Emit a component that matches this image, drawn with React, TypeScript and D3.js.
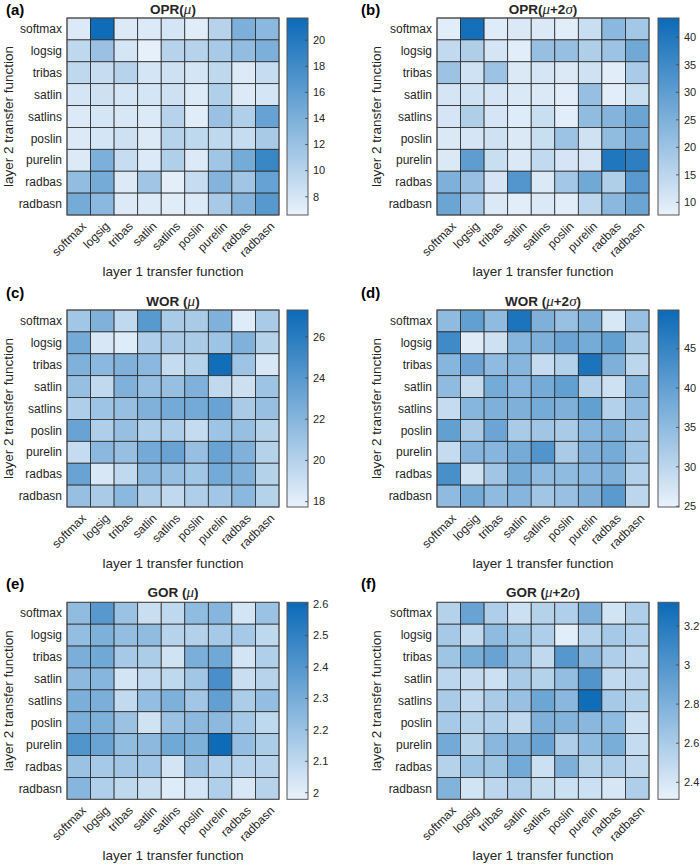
import React from "react";
import * as d3 from "d3";

const funcs = ["softmax", "logsig", "tribas", "satlin", "satlins", "poslin", "purelin", "radbas", "radbasn"];

// rows = layer 2 transfer function, cols = layer 1 transfer function
const oprMu = [
  [7.5, 21.5, 7.5, 7.5, 8, 7.2, 10, 14, 13],
  [9.5, 12, 8, 6.8, 10, 10, 11, 12.5, 14],
  [9.5, 9, 10, 8, 8.5, 8, 9.5, 7.5, 9],
  [8, 8.5, 8, 8, 8.5, 7.5, 10.5, 7.5, 8],
  [7.5, 8, 7.8, 7.5, 10, 7.2, 12, 10.5, 15.5],
  [7.5, 8, 8.5, 7.5, 10, 9.5, 9.5, 9, 11],
  [7.5, 14, 9, 7.5, 10.5, 7.5, 11.5, 14.5, 18.5],
  [12.5, 14.5, 7.5, 11.5, 7, 9, 13.5, 11.5, 15.5],
  [14.5, 13, 7.5, 7.5, 7.2, 7.5, 11, 13.5, 16.5],
];
const oprMu2s = [
  [9, 42, 9.5, 10, 10, 9, 13, 23, 19],
  [14, 17, 11, 9, 21, 21, 17, 20, 27],
  [20, 12, 20, 10, 11, 10, 12, 9, 18],
  [11, 12, 11, 10, 10, 9, 21, 9, 13],
  [11, 17, 11, 9.5, 13, 9, 22, 24, 28],
  [10, 11, 12, 10, 13, 20, 12, 22, 26],
  [10, 30, 13, 10, 14, 11, 11, 40, 38],
  [25, 21, 11, 32, 10, 19, 27, 17, 31],
  [28, 19, 10, 9, 10, 9, 15, 23, 28],
];
const worMu = [
  [20.8, 22.3, 19.5, 24, 20.5, 20.5, 22.3, 18.2, 20.5],
  [22.8, 18.5, 18.2, 20.3, 20.5, 20.5, 21, 22.3, 20],
  [22.3, 21.8, 22.3, 21.8, 19.3, 20, 27, 21, 18.5],
  [21.3, 19.5, 22.3, 21.3, 21.3, 22.3, 19.5, 19, 21],
  [20.3, 21, 21.3, 22.3, 22.8, 22.8, 23.3, 20.5, 21.3],
  [23.3, 20.3, 21.3, 20.3, 20.3, 19.3, 21, 21.3, 20],
  [19.3, 21.8, 21.3, 22.8, 23.3, 21.3, 23.3, 22.3, 20],
  [23.3, 18.5, 19.5, 21.8, 21.3, 20.8, 22.8, 22.3, 20],
  [21.3, 20.5, 21.8, 20.3, 19.5, 20.3, 20.8, 21.8, 20],
];
const worMu2s = [
  [35, 40, 35, 48, 37, 34, 37, 27, 34],
  [44, 26, 28, 36, 37, 39, 38, 40, 32],
  [36, 39, 35, 36, 29, 31, 48, 37, 30],
  [35, 29, 38, 36, 38, 40, 31, 28, 36],
  [29, 36, 37, 37, 38, 37, 40, 31, 35],
  [40, 32, 39, 32, 33, 32, 36, 37, 33],
  [29, 36, 36, 38, 42, 32, 37, 38, 33],
  [43, 28, 33, 38, 35, 35, 36, 37, 31],
  [35, 38, 35, 36, 33, 34, 37, 41, 30],
];
const gorMu = [
  [2.23, 2.39, 2.2, 2.07, 2.1, 2.23, 2.26, 2.04, 2.2],
  [2.22, 2.28, 2.22, 2.23, 2.12, 2.13, 2.17, 2.17, 2.1],
  [2.29, 2.32, 2.17, 2.15, 2.05, 2.29, 2.32, 2.04, 2.14],
  [2.24, 2.26, 2.04, 2.09, 2.1, 2.18, 2.43, 2.07, 2.12],
  [2.29, 2.29, 2.09, 2.22, 2.28, 2.18, 2.36, 2.15, 2.22],
  [2.29, 2.28, 2.2, 2.05, 2.2, 2.24, 2.24, 2.17, 2.1],
  [2.41, 2.34, 2.23, 2.24, 2.32, 2.28, 2.6, 2.22, 2.15],
  [2.2, 2.17, 2.18, 2.18, 2.04, 2.2, 2.14, 2.12, 2.12],
  [2.26, 2.14, 2.1, 2.07, 2.01, 2.04, 2.14, 2.03, 2.12],
];
const gorMu2s = [
  [2.55, 2.9, 2.58, 2.45, 2.55, 2.57, 2.8, 2.42, 2.58],
  [2.62, 2.5, 2.72, 2.65, 2.58, 2.35, 2.55, 2.62, 2.57],
  [2.65, 2.82, 2.9, 2.7, 2.5, 2.98, 2.75, 2.58, 2.52],
  [2.52, 2.48, 2.45, 2.6, 2.55, 2.7, 3.0, 2.5, 2.52],
  [2.6, 2.5, 2.6, 2.68, 2.88, 2.75, 3.3, 2.62, 2.55],
  [2.62, 2.55, 2.57, 2.5, 2.8, 2.78, 2.75, 2.72, 2.45],
  [2.85, 2.55, 2.75, 2.8, 2.9, 2.58, 2.72, 2.82, 2.48],
  [2.55, 2.65, 2.65, 2.85, 2.45, 2.8, 2.55, 2.58, 2.5],
  [2.78, 2.42, 2.52, 2.57, 2.47, 2.45, 2.45, 2.4, 2.58],
];

const domains: [number, number][] = [
  [6.6, 21.7], [7.7, 43.5], [17.74, 27.3], [24.9, 49.9], [1.979, 2.606], [2.313, 3.321],
];
const cbTicks = [
  [8, 10, 12, 14, 16, 18, 20],
  [10, 15, 20, 25, 30, 35, 40],
  [18, 20, 22, 24, 26],
  [25, 30, 35, 40, 45],
  [2, 2.1, 2.2, 2.3, 2.4, 2.5, 2.6],
  [2.4, 2.6, 2.8, 3, 3.2],
];
const panelLabels = ["(a)", "(b)", "(c)", "(d)", "(e)", "(f)"];
const titleBase = ["OPR(", "OPR(", "WOR (", "WOR (", "GOR (", "GOR ("];
const titleTwoSigma = [false, true, false, true, false, true];
const datasets = [oprMu, oprMu2s, worMu, worMu2s, gorMu, gorMu2s];

const LIGHT = "#e9f2fb";
const DARK = "#0b6ab7";
const FONT = "'Liberation Sans', Arial, Helvetica, sans-serif";
const TXT = "#262626";

const rowTops = [18, 310, 602.3];
const gridH = 197;
const colLefts = [67, 437];
const gridW = 212;
const cbLefts = [287, 658];
const cbW = 21;
const labelBaselines = [15, 298, 589];
const titleBaselines = [14, 306, 597];

function Panel({ idx }: { idx: number }) {
  const col = idx % 2;
  const row = Math.floor(idx / 2);
  const data = datasets[idx];
  const top = rowTops[row];
  const left = colLefts[col];
  const x = d3.scaleBand<string>().domain(funcs).range([left, left + gridW]);
  const y = d3.scaleBand<string>().domain(funcs).range([top, top + gridH]);
  const dom = domains[idx];
  const color = d3.scaleLinear<string>().domain(dom).range([LIGHT, DARK]).interpolate(d3.interpolateRgb).clamp(true);
  const cbX = cbLefts[col];
  const cbY = d3.scaleLinear().domain(dom).range([top + gridH, top]);
  const gradId = `grad${idx}`;
  const cx = left + gridW / 2;
  const bottom = top + gridH;
  const panelX = col === 0 ? 6 : 361;
  const ylabX = col === 0 ? 13 : 381;
  return (
    <g>
      <defs>
        <linearGradient id={gradId} x1="0" y1="1" x2="0" y2="0">
          <stop offset="0%" stopColor={LIGHT} />
          <stop offset="100%" stopColor={DARK} />
        </linearGradient>
      </defs>
      <text x={panelX} y={labelBaselines[row]} fontFamily={FONT} fontWeight="bold" fontSize={15} fill="#000">
        {panelLabels[idx]}
      </text>
      <text x={cx} y={titleBaselines[row]} textAnchor="middle" fontFamily={FONT} fontWeight="bold" fontSize={13.5} fill={TXT}>
        {titleBase[idx]}
        <tspan fontFamily="'Liberation Serif', 'Times New Roman', serif" fontStyle="italic" fontWeight="normal" fontSize={15}>μ</tspan>
        {titleTwoSigma[idx] ? (
          <>
            <tspan>+2</tspan>
            <tspan fontFamily="'Liberation Serif', 'Times New Roman', serif" fontStyle="italic" fontWeight="normal" fontSize={15}>σ</tspan>
          </>
        ) : null}
        <tspan>)</tspan>
      </text>
      {data.map((r, i) =>
        r.map((v, j) => (
          <rect
            key={`${i}-${j}`}
            x={x(funcs[j])!}
            y={y(funcs[i])!}
            width={x.bandwidth()}
            height={y.bandwidth()}
            fill={color(v)}
            stroke="#2a2a2a"
            strokeWidth={0.8}
          />
        ))
      )}
      <rect x={left} y={top} width={gridW} height={gridH} fill="none" stroke="#555" strokeWidth={1} />
      {funcs.map((f) => (
        <text
          key={"r" + f}
          x={left - 5}
          y={y(f)! + y.bandwidth() / 2}
          dy="0.35em"
          textAnchor="end"
          fontFamily={FONT}
          fontSize={12}
          fill={TXT}
        >
          {f}
        </text>
      ))}
      {funcs.map((f) => {
        const tx = x(f)! + x.bandwidth() / 2 + 5;
        const ty = bottom + 9;
        return (
          <text
            key={"c" + f}
            transform={`translate(${tx},${ty}) rotate(-45)`}
            dy="0.35em"
            textAnchor="end"
            fontFamily={FONT}
            fontSize={12}
            fill={TXT}
          >
            {f}
          </text>
        );
      })}
      <text x={cx} y={bottom + 61} textAnchor="middle" fontFamily={FONT} fontSize={13.5} fill={TXT}>
        layer 1 transfer function
      </text>
      <text
        transform={`translate(${ylabX},${top + gridH / 2}) rotate(-90)`}
        textAnchor="middle"
        fontFamily={FONT}
        fontSize={13.5}
        fill={TXT}
      >
        layer 2 transfer function
      </text>
      <rect x={cbX} y={top} width={cbW} height={gridH} fill={`url(#${gradId})`} stroke="#555" strokeWidth={1} />
      {cbTicks[idx].map((t) => (
        <g key={"t" + t}>
          <line x1={cbX + cbW - 3} x2={cbX + cbW} y1={cbY(t)} y2={cbY(t)} stroke="#444" strokeWidth={0.8} />
          <text x={cbX + cbW + 5} y={cbY(t)} dy="0.35em" fontFamily={FONT} fontSize={11} fill={TXT}>
            {t}
          </text>
        </g>
      ))}
    </g>
  );
}

export default function App() {
  return (
    <svg width={700} height={865} style={{ position: "absolute", left: 0, top: 0, background: "#fff" }}>
      <rect width={700} height={865} fill="#fff" />
      {[0, 1, 2, 3, 4, 5].map((i) => (
        <Panel key={i} idx={i} />
      ))}
    </svg>
  );
}
